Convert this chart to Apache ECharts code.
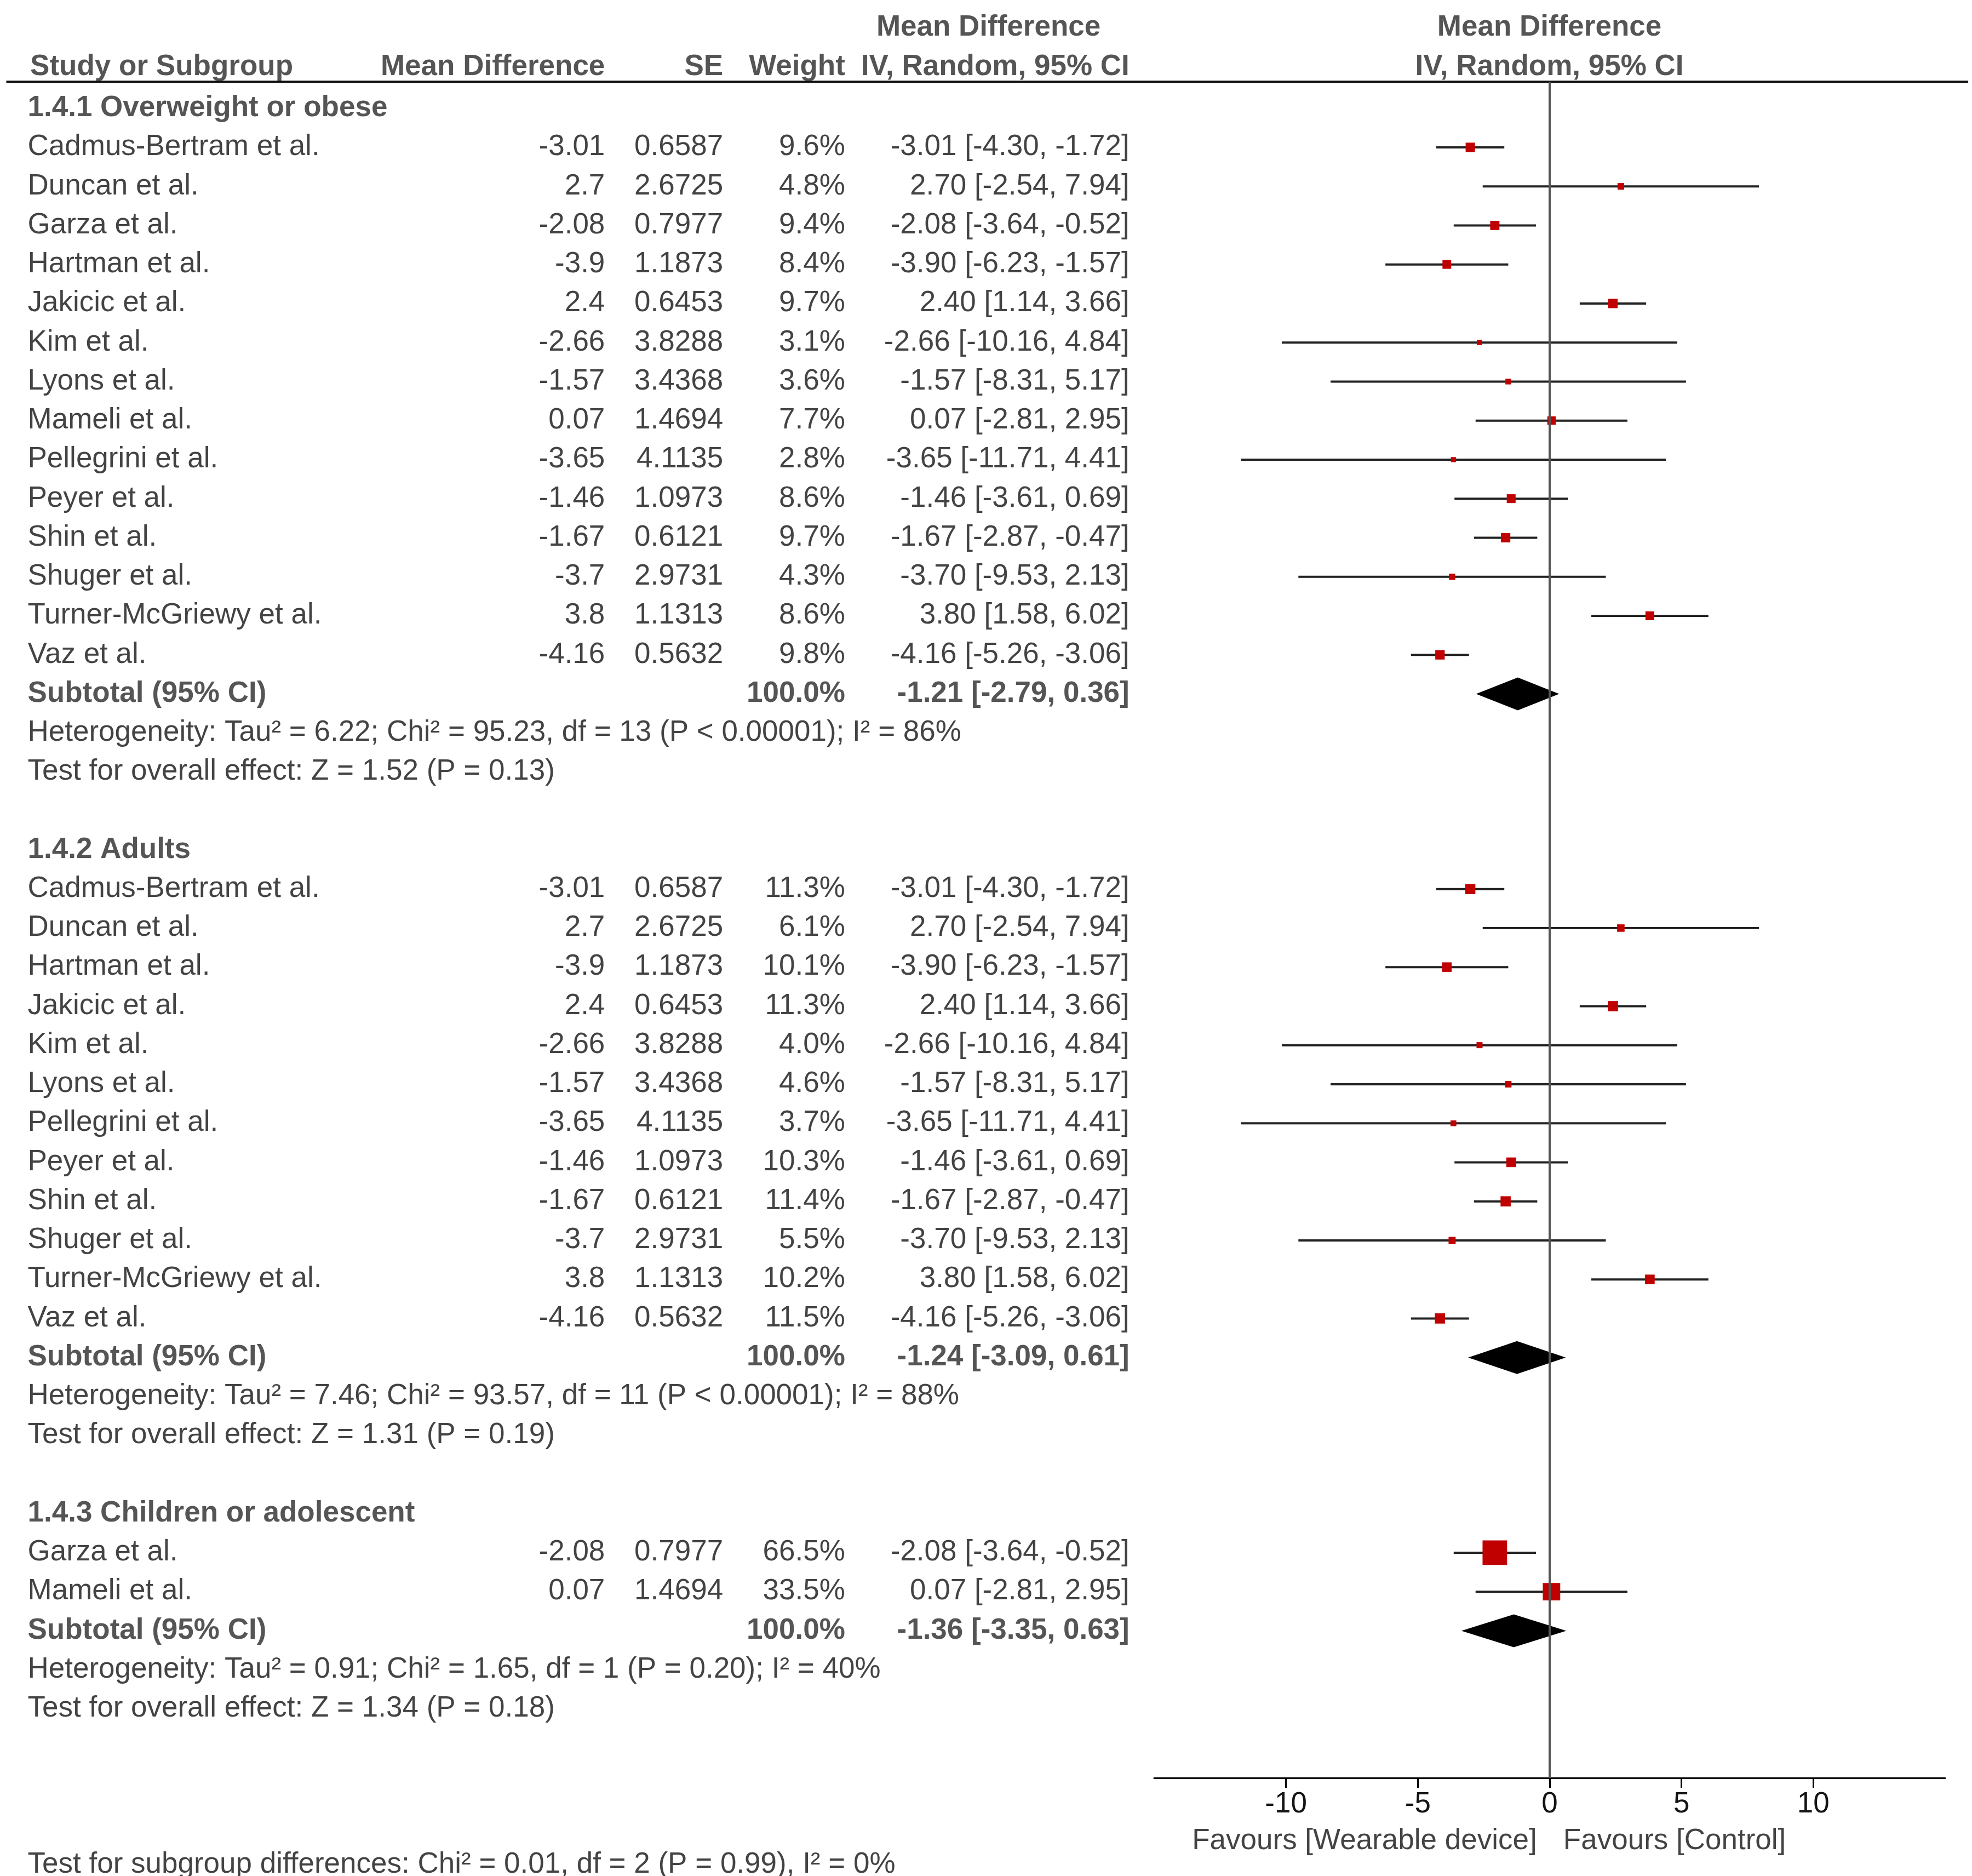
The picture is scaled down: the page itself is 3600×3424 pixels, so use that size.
<!DOCTYPE html>
<html>
<head>
<meta charset="utf-8">
<script src="https://cdn.jsdelivr.net/npm/echarts@6/dist/echarts.min.js"></script>
<style>html,body{margin:0;padding:0;background:#fff}#main{width:3600px;height:3424px}</style>
</head>
<body>
<div id="main"></div>
<script>
// group 1.4.1
var g1Title = "1.4.1 Overweight or obese";
var g1Names = ["Cadmus-Bertram et al.","Duncan et al.","Garza et al.","Hartman et al.","Jakicic et al.","Kim et al.","Lyons et al.","Mameli et al.","Pellegrini et al.","Peyer et al.","Shin et al.","Shuger et al.","Turner-McGriewy et al.","Vaz et al."];
var g1MD = [-3.01,2.7,-2.08,-3.9,2.4,-2.66,-1.57,0.07,-3.65,-1.46,-1.67,-3.7,3.8,-4.16];
var g1SE = [0.6587,2.6725,0.7977,1.1873,0.6453,3.8288,3.4368,1.4694,4.1135,1.0973,0.6121,2.9731,1.1313,0.5632];
var g1W = [9.6,4.8,9.4,8.4,9.7,3.1,3.6,7.7,2.8,8.6,9.7,4.3,8.6,9.8];
var g1Lo = [-4.30,-2.54,-3.64,-6.23,1.14,-10.16,-8.31,-2.81,-11.71,-3.61,-2.87,-9.53,1.58,-5.26];
var g1Hi = [-1.72,7.94,-0.52,-1.57,3.66,4.84,5.17,2.95,4.41,0.69,-0.47,2.13,6.02,-3.06];
var g1Sub = [-1.21,-2.79,0.36];
var g1Het = "Heterogeneity: Tau² = 6.22; Chi² = 95.23, df = 13 (P < 0.00001); I² = 86%";
var g1Test = "Test for overall effect: Z = 1.52 (P = 0.13)";

// group 1.4.2
var g2Title = "1.4.2 Adults";
var g2Names = ["Cadmus-Bertram et al.","Duncan et al.","Hartman et al.","Jakicic et al.","Kim et al.","Lyons et al.","Pellegrini et al.","Peyer et al.","Shin et al.","Shuger et al.","Turner-McGriewy et al.","Vaz et al."];
var g2MD = [-3.01,2.7,-3.9,2.4,-2.66,-1.57,-3.65,-1.46,-1.67,-3.7,3.8,-4.16];
var g2SE = [0.6587,2.6725,1.1873,0.6453,3.8288,3.4368,4.1135,1.0973,0.6121,2.9731,1.1313,0.5632];
var g2W = [11.3,6.1,10.1,11.3,4.0,4.6,3.7,10.3,11.4,5.5,10.2,11.5];
var g2Lo = [-4.30,-2.54,-6.23,1.14,-10.16,-8.31,-11.71,-3.61,-2.87,-9.53,1.58,-5.26];
var g2Hi = [-1.72,7.94,-1.57,3.66,4.84,5.17,4.41,0.69,-0.47,2.13,6.02,-3.06];
var g2Sub = [-1.24,-3.09,0.61];
var g2Het = "Heterogeneity: Tau² = 7.46; Chi² = 93.57, df = 11 (P < 0.00001); I² = 88%";
var g2Test = "Test for overall effect: Z = 1.31 (P = 0.19)";

// group 1.4.3
var g3Title = "1.4.3 Children or adolescent";
var g3Names = ["Garza et al.","Mameli et al."];
var g3MD = [-2.08,0.07];
var g3SE = [0.7977,1.4694];
var g3W = [66.5,33.5];
var g3Lo = [-3.64,-2.81];
var g3Hi = [-0.52,2.95];
var g3Sub = [-1.36,-3.35,0.63];
var g3Het = "Heterogeneity: Tau² = 0.91; Chi² = 1.65, df = 1 (P = 0.20); I² = 40%";
var g3Test = "Test for overall effect: Z = 1.34 (P = 0.18)";

var subgroupTest = "Test for subgroup differences: Chi² = 0.01, df = 2 (P = 0.99), I² = 0%";
var axisTicks = [-10,-5,0,5,10];

var groups = [
  {title:g1Title,names:g1Names,md:g1MD,se:g1SE,w:g1W,lo:g1Lo,hi:g1Hi,sub:g1Sub,het:g1Het,test:g1Test},
  {title:g2Title,names:g2Names,md:g2MD,se:g2SE,w:g2W,lo:g2Lo,hi:g2Hi,sub:g2Sub,het:g2Het,test:g2Test},
  {title:g3Title,names:g3Names,md:g3MD,se:g3SE,w:g3W,lo:g3Lo,hi:g3Hi,sub:g3Sub,het:g3Het,test:g3Test}
];

var FS = 53, FONT = 'Liberation Sans', TXT = '#141414';
// column x positions (table grid units)
var COL_NAME = 22, COL_MD = 481, COL_SE = 575, COL_W = 672, COL_CI = 898;

function ci(m, lo, hi){ return m.toFixed(2) + ' [' + lo.toFixed(2) + ', ' + hi.toFixed(2) + ']'; }

var texts = [];
function addText(x, y, s, align, bold){
  texts.push({value:[x,y], label:{formatter:s, align:align||'left', fontWeight:bold?'bold':'normal', color:bold?'#2a2a2a':TXT}});
}
var studyPts = [], ciLines = [], diamonds = [];
var slot = -1;
groups.forEach(function(g){
  addText(COL_NAME, slot, g.title, 'left', true); slot++;
  g.names.forEach(function(n, i){
    addText(COL_NAME, slot, n, 'left');
    addText(COL_MD, slot, String(g.md[i]), 'right');
    addText(COL_SE, slot, String(g.se[i]), 'right');
    addText(COL_W, slot, g.w[i].toFixed(1) + '%', 'right');
    addText(COL_CI, slot, ci(g.md[i], g.lo[i], g.hi[i]), 'right');
    studyPts.push([g.md[i], slot, g.w[i]]);
    ciLines.push([g.lo[i], g.hi[i], slot]);
    slot++;
  });
  addText(COL_NAME, slot, 'Subtotal (95% CI)', 'left', true);
  addText(COL_W, slot, '100.0%', 'right', true);
  addText(COL_CI, slot, ci(g.sub[0], g.sub[1], g.sub[2]), 'right', true);
  diamonds.push([g.sub[1], g.sub[0], g.sub[2], slot]);
  slot++;
  addText(COL_NAME, slot, g.het, 'left'); slot++;
  addText(COL_NAME, slot, g.test, 'left'); slot += 2;
});
addText(COL_NAME, 44, subgroupTest, 'left');
// headers
addText(24, -2.06, 'Study or Subgroup', 'left', true);
addText(COL_MD, -2.06, 'Mean Difference', 'right', true);
addText(COL_SE, -2.06, 'SE', 'right', true);
addText(COL_W, -2.06, 'Weight', 'right', true);
addText(COL_CI, -2.06, 'IV, Random, 95% CI', 'right', true);
addText(786, -3.06, 'Mean Difference', 'center', true);
addText(1232, -3.06, 'Mean Difference', 'center', true);
addText(1232, -2.06, 'IV, Random, 95% CI', 'center', true);
addText(1222, 43.4, 'Favours [Wearable device]', 'right');
addText(1243, 43.4, 'Favours [Control]', 'left');

var HEAD_Y = -1.68, AXIS_Y = 41.77;

var chart = echarts.init(document.getElementById('main'));
chart.setOption({
  animation: false,
  backgroundColor: '#fff',
  grid: [
    {left:0, right:0, top:0, bottom:0},
    {left:2107, right:49, top:0, bottom:179}
  ],
  xAxis: [
    {gridIndex:0, type:'value', min:0, max:1568, show:false},
    {gridIndex:1, type:'value', min:-15, max:15, interval:5, position:'bottom',
     axisLine:{onZero:false, lineStyle:{color:'#000', width:3}},
     axisTick:{customValues:axisTicks, length:18, lineStyle:{color:'#000', width:3}},
     axisLabel:{customValues:axisTicks, fontSize:FS, fontFamily:FONT, color:TXT, margin:22},
     splitLine:{show:false}}
  ],
  yAxis: [
    {gridIndex:0, type:'value', min:-3.774, max:44.29, inverse:true, show:false},
    {gridIndex:1, type:'value', min:-3.774, max:AXIS_Y, inverse:true, show:false}
  ],
  series: [
    {type:'line', xAxisIndex:0, yAxisIndex:0, symbol:'none', silent:true,
     lineStyle:{color:'#111', width:4}, data:[[5,HEAD_Y],[1565,HEAD_Y]]},
    {type:'line', xAxisIndex:1, yAxisIndex:1, symbol:'none', silent:true,
     lineStyle:{color:'#555', width:4}, data:[[0,HEAD_Y],[0,AXIS_Y]]},
    {type:'custom', xAxisIndex:1, yAxisIndex:1, data:ciLines,
     renderItem:function(params, api){
       var a = api.coord([api.value(0), api.value(2)]);
       var b = api.coord([api.value(1), api.value(2)]);
       return {type:'line', shape:{x1:a[0],y1:a[1],x2:b[0],y2:b[1]}, style:{stroke:'#222', lineWidth:4}};
     }},
    {type:'scatter', xAxisIndex:1, yAxisIndex:1, symbol:'rect', data:studyPts,
     symbolSize:function(v){ return 5.5 * Math.sqrt(v[2]); },
     itemStyle:{color:'#c00000', opacity:1}},
    {type:'custom', xAxisIndex:1, yAxisIndex:1, data:diamonds,
     renderItem:function(params, api){
       var y = api.value(3);
       var l = api.coord([api.value(0), y]);
       var m = api.coord([api.value(1), y]);
       var r = api.coord([api.value(2), y]);
       var h = 30;
       return {type:'polygon', shape:{points:[[l[0],l[1]],[m[0],m[1]-h],[r[0],r[1]],[m[0],m[1]+h]]}, style:{fill:'#000'}};
     }},
    {type:'scatter', xAxisIndex:0, yAxisIndex:0, symbolSize:0, silent:true, data:texts,
     label:{show:true, position:'inside', verticalAlign:'middle', fontSize:FS, fontFamily:FONT, color:TXT}}
  ]
});
</script>
</body>
</html>
